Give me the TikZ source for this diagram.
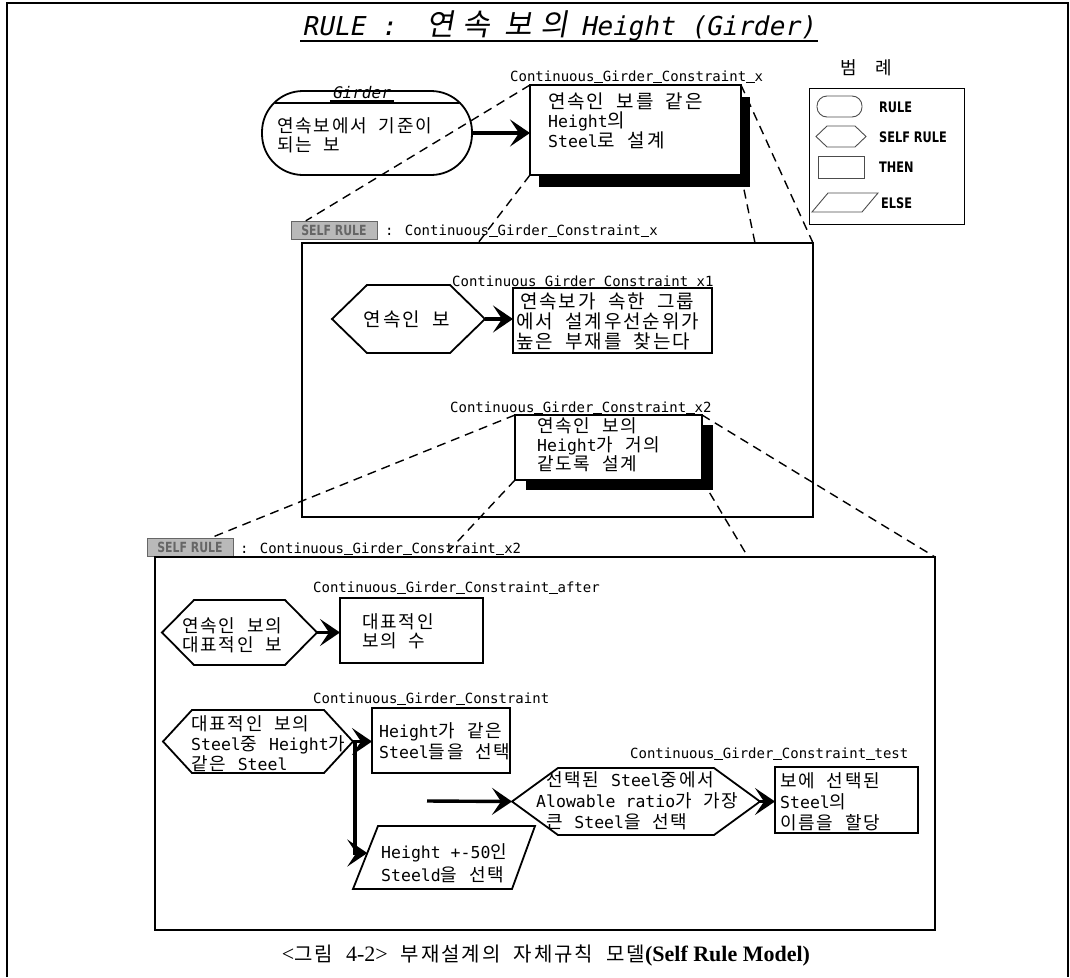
\documentclass[tikz,border=0pt]{standalone}
\usepackage{fontspec}
\usetikzlibrary{arrows.meta,calc}
\setmainfont{Noto Sans CJK KR}[WordSpace=2.2]
\newfontfamily\ko{Noto Sans CJK KR}[WordSpace=2.0,LetterSpace=10]
\newfontfamily\kop{Noto Sans CJK KR}[WordSpace=2.0]
\newfontfamily\koti{Noto Sans CJK KR}[FakeSlant=0.18,LetterSpace=30,WordSpace=1.5]
\newfontfamily\mono{DejaVu Sans Mono}
\newfontfamily\monoi{DejaVu Sans Mono}[FakeSlant=0.2]
\newfontfamily\lgf{DejaVu Sans}[FakeStretch=0.78]
\newfontfamily\capser{Liberation Serif}
\newcommand\lat[1]{{\mono\fontsize{16.5}{18}\selectfont #1}}
\newcommand\us{\rule[-1.6pt]{0.602em}{1.1pt}}
% invisible frame node: name x1 y1 x2 y2
\newcommand\bx[6][]{\node[inner sep=0pt,outer sep=0pt,minimum width={#5-#3},minimum height={#6-#4},#1] (#2) at ({(#3+#5)/2},{(#4+#6)/2}) {};}
\newcommand\hexa[3][shp]{\draw[#1] (#2.west) -- ([xshift=#3pt]#2.north west) -- ([xshift=-#3pt]#2.north east) -- (#2.east) -- ([xshift=-#3pt]#2.south east) -- ([xshift=#3pt]#2.south west) -- cycle;}
\tikzset{
 shp/.style={draw, line width=1.8pt},
 lgs/.style={draw, line width=0.9pt, black!70},
 zl/.style={line width=1.4pt, dash pattern=on 9pt off 6pt},
 arr/.style={line width=3.4pt, -{Stealth[length=20pt,width=27pt,inset=9pt]}},
 lbl/.style={inner sep=0pt, anchor=base west, font=\mono\fontsize{14}{16}\selectfont},
 btxt/.style={inner sep=0pt, anchor=west, align=left, font=\ko\fontsize{18}{19}\selectfont},
 lgtxt/.style={inner sep=0pt, anchor=west, font=\lgf\bfseries\fontsize{14.5}{15}\selectfont},
 srlab/.style={fill=gray!55, draw=gray!80!black, inner sep=0pt, minimum width=86pt, minimum height=18pt, text=black!60, font=\lgf\bfseries\fontsize{14}{14}\selectfont},
}
\begin{document}
\begin{tikzpicture}[x=1pt,y=-1pt]
\useasboundingbox (0,0) rectangle (1070,977);
% outer frame
\draw[line width=1.4pt] (7,977) -- (7,3) -- (1068,3) -- (1068,977);

% title
\node[inner sep=0pt, anchor=base west, font=\monoi\fontsize{26}{28}\selectfont] (title) at (302,35)
 {RULE :\hspace{30pt}{\koti\fontsize{30}{30}\selectfont 연속\hspace{14pt}보의}\hspace{12pt}Height (Girder)};
\draw[line width=1.8pt] ($(title.base west)+(-2pt,-6pt)$) -- ($(title.base east)+(2pt,-6pt)$);

% ---------- boxes of level 0 ----------
\bx{t0}{530}{85}{741}{175}
\bx{sr1}{302}{243}{813}{517}
\node[srlab] (sr1g) at (334,230) {SELF RULE};
\bx{t2}{515}{415}{702}{480}
\bx{sr2}{155}{557}{935}{930}
\node[srlab] (sr2g) at (190,547) {SELF RULE};

% zoom guide lines
\draw[zl] (t0.north west) -- ([xshift=15pt]sr1g.north west);
\draw[zl] (t0.south west) -- ([xshift=176pt]sr1.north west);
\draw[zl] (t0.north east) -- (sr1.north east);
\draw[zl] (t0.south east) -- ([xshift=-58pt]sr1.north east);
\draw[zl] (t2.north west) -- ([xshift=64pt]sr2g.north west);
\draw[zl] (t2.south west) -- ([xshift=288pt]sr2.north west);
\draw[zl] (t2.north east) -- (sr2.north east);
\draw[zl] (t2.south east) -- ([xshift=-187pt]sr2.north east);

% Girder rule
\bx[shp, rounded corners=41pt]{g0}{262}{91}{472}{175}
\draw[shp] ([shift={(12.6pt,-12pt)}]g0.north west) -- ([shift={(-12.6pt,-12pt)}]g0.north east);
\node[inner sep=0pt, anchor=base, font=\monoi\fontsize{16}{16}\selectfont] (g0l) at (361,98) {Girder};
\draw[line width=1.5pt] ([shift={(-2pt,-3pt)}]g0l.base west) -- ([shift={(4pt,-3pt)}]g0l.base east);
\node[btxt] (g0t) at (277,135) {연속보에서 기준이\\되는 보};

% top THEN
\fill ([shift={(9pt,-12pt)}]t0.north west) rectangle ([shift={(9pt,-12pt)}]t0.south east);
\draw[shp, fill=white] (t0.north west) rectangle (t0.south east);
\node[btxt, font=\ko\fontsize{19}{19}\selectfont] (t0t) at (548,121) {연속인 보를 같은\\\lat{Height}의\\\lat{Steel}로 설계};
\node[lbl] (t0l) at (510,81) {Continuous\us Girder\us Constraint\us x};
\draw[arr] (g0.east) -- (t0.west |- g0.east);

% legend
\node[inner sep=0pt, font=\kop\fontsize{18}{18}\selectfont] (lgt) at (866,68) {범\hspace{18pt}례};
\bx[draw, line width=1pt]{lg}{809}{88}{964}{224}
\bx[lgs, rounded corners=10pt]{lg1}{817}{96}{862}{117}
\bx{lg2}{816}{126}{866}{147}
\hexa[lgs]{lg2}{11}
\bx[lgs]{lg3}{818}{156}{864}{178}
\bx{lg4}{812}{193}{878}{212}
\draw[lgs] ([xshift=16pt]lg4.north west) -- (lg4.north east) -- ([xshift=-16pt]lg4.south east) -- (lg4.south west) -- cycle;
\node[lgtxt] (lgr) at (879,107) {RULE};
\node[lgtxt] (lgs) at (879,137) {SELF RULE};
\node[lgtxt] (lgth) at (879,167) {THEN};
\node[lgtxt] (lgel) at (881,203) {ELSE};

% ---------- SELF RULE 1 ----------
\draw[shp] (sr1.north west) rectangle (sr1.south east);
\node[lbl] (sr1t) at (385,235) {: Continuous\us Girder\us Constraint\us x};
\bx{h1}{332}{285}{485}{353}
\hexa{h1}{35}
\node[inner sep=0pt, font=\ko\fontsize{19}{19}\selectfont] (h1t) at (407,319) {연속인 보};
\bx[shp]{t1}{513}{288}{712}{353}
\node[btxt, font=\ko\fontsize{19}{20}\selectfont] (t1t) at (516,321) {\hspace{4pt}연속보가 속한 그룹\\에서 설계우선순위가\\높은 부재를 찾는다};
\node[lbl] (t1l) at (452,286) {Continuous\us Girder\us Constraint\us x1};
\draw[arr] (h1.east) -- (t1.west |- h1.east);

\fill ([shift={(11pt,-10pt)}]t2.north west) rectangle ([shift={(11pt,-10pt)}]t2.south east);
\draw[shp, fill=white] (t2.north west) rectangle (t2.south east);
\node[btxt] (t2t) at (537,445) {연속인 보의\\\lat{Height}가 거의\\같도록 설계};
\node[lbl] (t2l) at (450,412) {Continuous\us Girder\us Constraint\us x2};

% ---------- SELF RULE 2 ----------
\draw[shp] (sr2.north west) rectangle (sr2.south east);
\node[lbl] (sr2t) at (240,553) {: Continuous\us Girder\us Constraint\us x2};

\bx{h3}{162}{600}{317}{665}
\hexa{h3}{32}
\node[btxt] (h3t) at (182,635) {연속인 보의\\대표적인 보};
\bx[shp]{t3}{340}{598}{483}{663}
\node[btxt] (t3t) at (362,631) {대표적인\\보의 수};
\node[lbl] (t3l) at (313,592) {Continuous\us Girder\us Constraint\us after};
\draw[arr] (h3.east) -- (t3.west |- h3.east);

\bx{h4}{163}{710}{353}{773}
\hexa{h4}{29}
\node[btxt, font=\ko\fontsize{18}{20}\selectfont] (h4t) at (191,744) {대표적인 보의\\\lat{Steel}중 \lat{Height}가\\같은 \lat{Steel}};
\bx[shp]{t4}{372}{708}{510}{773}
\node[btxt, font=\ko\fontsize{18}{21}\selectfont] (t4t) at (379,741) {\lat{Height}가 같은\\\lat{Steel}들을 선택};
\node[lbl] (t4l) at (313,703) {Continuous\us Girder\us Constraint};
\draw[arr] (h4.east) -- (t4.west |- h4.east);

\bx{e1}{353}{826}{535}{889}
\draw[shp] ([xshift=25pt]e1.north west) -- (e1.north east) -- ([xshift=-23pt]e1.south east) -- (e1.south west) -- cycle;
\coordinate (e1in) at ($(e1.south west)!0.571!([xshift=25pt]e1.north west)$);
\node[btxt, font=\ko\fontsize{18}{23}\selectfont] (e1t) at (381,863) {\lat{Height +-50}인\\\lat{Steeld}을 선택};
\draw[arr] ([xshift=2pt]h4.east) |- (e1in);

\bx{h5}{512}{768}{760}{835}
\hexa{h5}{46}
\node[btxt, font=\ko\fontsize{18}{21}\selectfont] (h5t) at (536,801) {\hspace{10pt}선택된 \lat{Steel}중에서\\\lat{Alowable ratio}가 가장\\\hspace{10pt}큰 \lat{Steel}을 선택};
\coordinate (a5) at (427,801);
\draw[arr] (a5) -- (h5.west);
\bx[shp]{t5}{775}{767}{918}{833}
\node[btxt, font=\ko\fontsize{18}{21}\selectfont] (t5t) at (780,802) {보에 선택된\\\lat{Steel}의\\이름을 할당};
\node[lbl] (t5l) at (630,758) {Continuous\us Girder\us Constraint\us test};
\draw[arr] (h5.east) -- (t5.west |- h5.east);

% caption
\node[inner sep=0pt, font=\ko\fontsize{20}{22}\selectfont] (cap) at (546,956)
 {{\capser\fontsize{22}{22}\selectfont <}그림 {\capser\fontsize{22}{22}\selectfont 4-2>} 부재설계의 자체규칙 모델{\capser\bfseries\fontsize{22}{22}\selectfont (Self Rule Model)}};
\end{tikzpicture}
\end{document}
